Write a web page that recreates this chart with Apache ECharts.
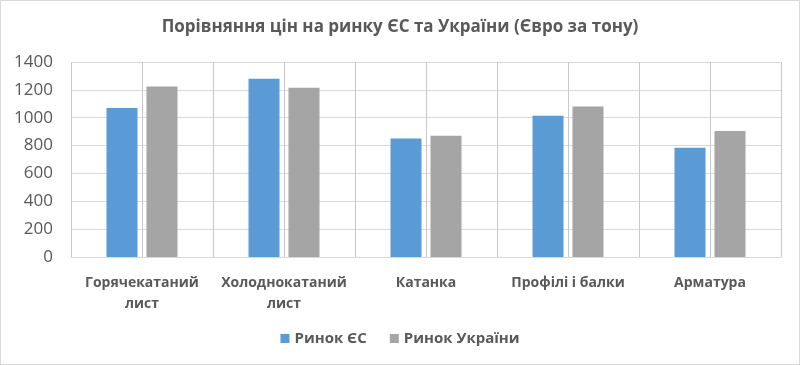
<!DOCTYPE html>
<html><head><meta charset="utf-8">
<script src="https://cdn.jsdelivr.net/npm/echarts@6/dist/echarts.min.js"></script>
<style>html,body{margin:0;padding:0;background:#fff}#c{width:800px;height:365px;box-sizing:border-box;border:1px solid #d9d9d9}</style>
</head><body><div id="c"></div>
<script>
const titleText = 'Порівняння цін на ринку ЄС та України (Євро за тону)';
const categories = ['Горячекатаний\nлист', 'Холоднокатаний\nлист', 'Катанка', 'Профілі і балки', 'Арматура'];
const seriesNames = ['Ринок ЄС', 'Ринок України'];
const euValues = [1070, 1280, 850, 1015, 785];
const uaValues = [1225, 1215, 870, 1080, 905];
const yTicks = [0, 200, 400, 600, 800, 1000, 1200, 1400];

const chart = echarts.init(document.getElementById('c'));
const txt = '#595959';
const font = 'Open Sans';
chart.setOption({
  animation: false,
  textStyle: { fontFamily: font },
  title: { text: titleText, left: 'center', top: 13,
    textStyle: { fontSize: 17, fontWeight: 'bold', color: txt, fontFamily: font } },
  legend: { bottom: 13, left: 'center', itemWidth: 9, itemHeight: 9, itemGap: 23,
    icon: 'rect', data: seriesNames,
    textStyle: { fontSize: 15, fontWeight: 'bold', color: txt, fontFamily: font } },
  grid: { left: 70, right: 18, top: 61, bottom: 107, containLabel: false },
  xAxis: [
    { type: 'category', data: categories,
      axisLine: { lineStyle: { color: '#d9d9d9' } }, axisTick: { show: false },
      axisLabel: { color: txt, fontSize: 14, fontWeight: 'bold', margin: 16, lineHeight: 21, interval: 0, fontFamily: font },
      splitLine: { show: false } },
    { type: 'value', min: 0, max: 5, interval: 0.5, position: 'bottom', show: true,
      axisLine: { show: false }, axisTick: { show: false }, axisLabel: { show: false },
      splitLine: { show: true, lineStyle: { color: '#c8c8c8', width: 1 } } }
  ],
  yAxis: { type: 'value', min: yTicks[0], max: yTicks[yTicks.length - 1], interval: 200,
    axisLine: { show: false }, axisTick: { show: false },
    axisLabel: { color: txt, fontSize: 17, margin: 18, formatter: v => String(v) },
    splitLine: { lineStyle: { color: '#d9d9d9' } } },
  series: [
    { name: seriesNames[0], type: 'bar', data: euValues, barWidth: 31, barGap: '29%',
      itemStyle: { color: '#5b9bd5' } },
    { name: seriesNames[1], type: 'bar', data: uaValues, barWidth: 31,
      itemStyle: { color: '#a5a5a5' } }
  ]
});
</script></body></html>
